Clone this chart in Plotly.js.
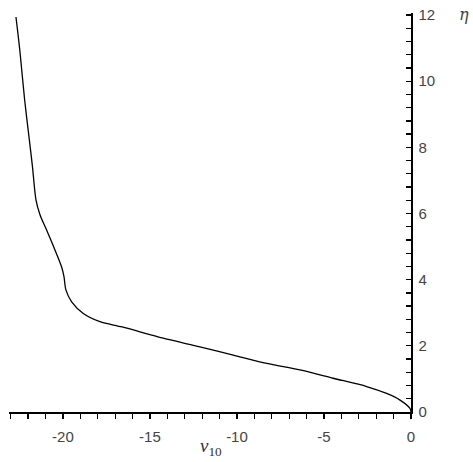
<!DOCTYPE html>
<html>
<head>
<meta charset="utf-8">
<script src="https://cdn.plot.ly/plotly-3.0.1.min.js"></script>
<style>
  html, body { margin: 0; padding: 0; background: #fff; }
  #chart { width: 473px; height: 462px; }
</style>
</head>
<body>
<div id="chart"></div>
<script>
// curve: v10 against eta
const v10 = [0, -0.06, -0.63, -1.4, -2.55, -4.47, -6.38, -8.29, -10.21, -12.13,
  -14.24, -16.6, -17.87, -18.83, -19.5, -19.83, -19.94, -20.08, -20.46, -20.94,
  -21.32, -21.55, -21.75, -21.93, -22.2, -22.48, -22.7];
const eta = [0, 0.11, 0.36, 0.56, 0.77, 1.02, 1.27, 1.47, 1.72, 1.97,
  2.23, 2.57, 2.73, 2.98, 3.33, 3.69, 4.09, 4.39, 4.9, 5.5,
  5.96, 6.41, 7.41, 8.22, 9.43, 10.94, 11.94];

const xTicks = [-20, -15, -10, -5, 0];
const yTicks = [0, 2, 4, 6, 8, 10, 12];

const trace = {
  x: v10,
  y: eta,
  mode: 'lines',
  type: 'scatter',
  line: { color: '#000', width: 1.3, shape: 'spline', smoothing: 0.8 },
  hoverinfo: 'skip'
};

const tickFont = { family: 'Liberation Sans, Arial, sans-serif', size: 15, color: '#444' };

const layout = {
  width: 473,
  height: 462,
  margin: { l: 9, r: 62, t: 13, b: 50 },
  paper_bgcolor: '#fff',
  plot_bgcolor: '#fff',
  showlegend: false,
  xaxis: {
    range: [-23.1, 0],
    tickvals: xTicks,
    ticktext: xTicks.map(String),
    ticks: 'outside',
    ticklen: 5,
    tickwidth: 1.3,
    tickcolor: '#000',
    ticklabelstandoff: 5,
    minor: { dtick: 1, tick0: 0, ticks: 'outside', ticklen: 5, tickwidth: 1.3, tickcolor: '#000' },
    showline: true,
    linecolor: '#000',
    linewidth: 1.5,
    showgrid: false,
    zeroline: false,
    tickfont: tickFont
  },
  yaxis: {
    range: [0, 12.06],
    side: 'right',
    tickvals: yTicks,
    ticktext: yTicks.map(String),
    ticks: 'inside',
    ticklen: 5,
    tickwidth: 1.3,
    tickcolor: '#000',
    ticklabelstandoff: 3,
    minor: { dtick: 0.4, tick0: 0, ticks: 'inside', ticklen: 5, tickwidth: 1.3, tickcolor: '#000' },
    showline: true,
    linecolor: '#000',
    linewidth: 1.5,
    showgrid: false,
    zeroline: false,
    tickfont: tickFont
  },
  shapes: [
    // short stub of the vertical axis below the horizontal one
    { type: 'line', xref: 'x', yref: 'paper', x0: 0, x1: 0, y0: 0, y1: -0.018,
      line: { color: '#000', width: 1.5 } }
  ],
  annotations: [
    {
      text: '<i>η</i>',
      xref: 'paper', yref: 'y',
      x: 1.0, xshift: 46, y: 12,
      xanchor: 'left', yanchor: 'middle',
      showarrow: false,
      font: { family: 'DejaVu Serif, serif', size: 16, color: '#444' }
    },
    {
      text: '<i>v</i><sub>10</sub>',
      xref: 'x', yref: 'paper',
      x: -11.5, y: 0, yshift: -49,
      showarrow: false,
      font: { family: 'Liberation Serif, Times New Roman, serif', size: 19, color: '#333' }
    }
  ]
};

Plotly.newPlot('chart', [trace], layout, { displayModeBar: false, staticPlot: true });
</script>
</body>
</html>
